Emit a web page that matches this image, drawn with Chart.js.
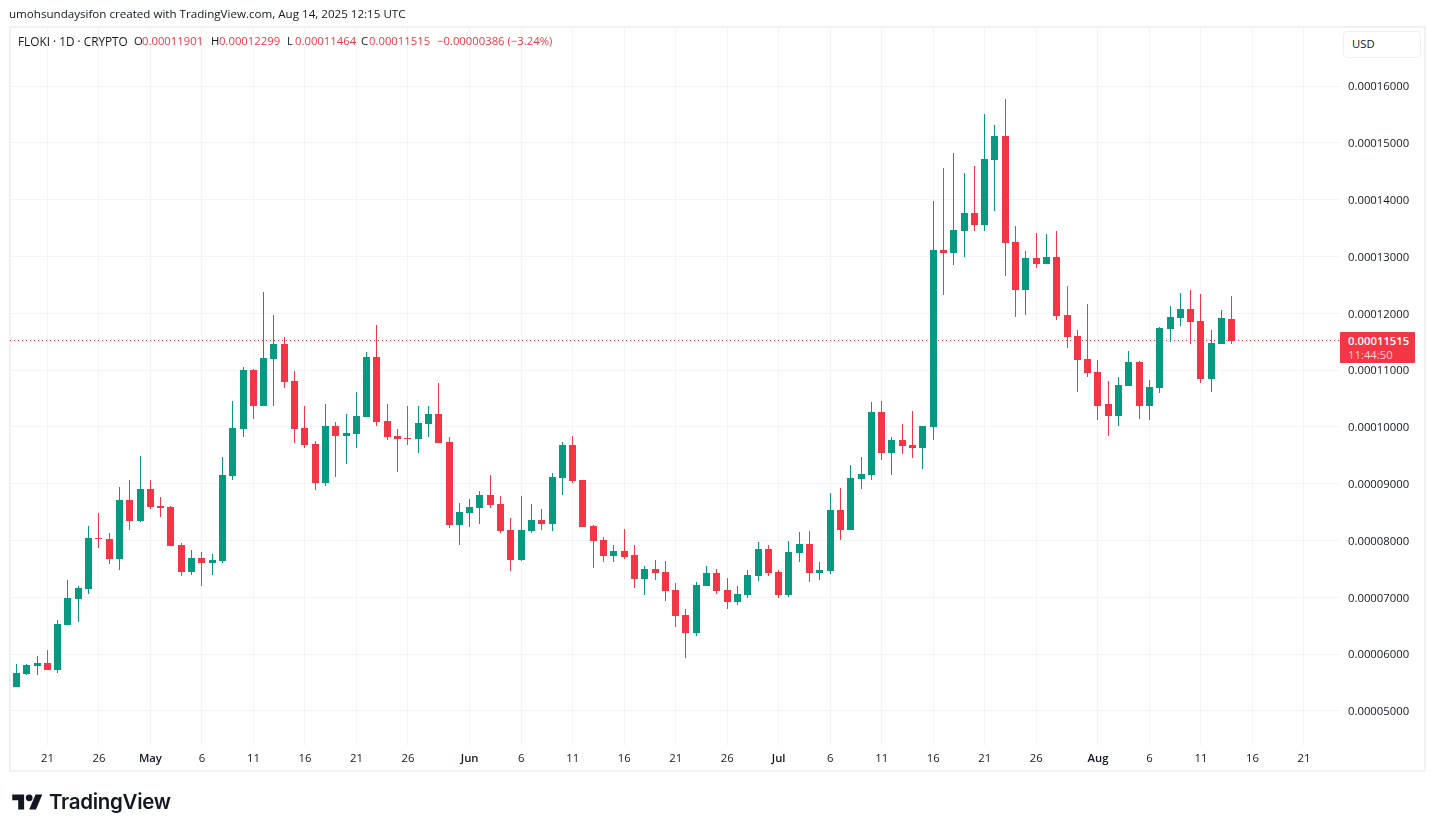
<!DOCTYPE html>
<html>
<head>
<meta charset="utf-8">
<title>FLOKI 1D</title>
<script src="https://cdn.jsdelivr.net/npm/chart.js@4"></script>
<style>
    html, body { margin: 0; padding: 0; background: #fff; }
    body { width: 1435px; height: 832px; position: relative; overflow: hidden; font-family: "Open Sans", sans-serif; color: #131722; }
    canvas { position: absolute; left: 0; top: 0; }
    .txt { position: absolute; white-space: nowrap; font-size: 11.3px; line-height: 14px; }
    .red { color: #f23645; }
    #frame { position: absolute; left: 9px; top: 26px; width: 1413px; height: 742px; border: 2px solid #f0f1f4; }
    #usd { position: absolute; left: 1343px; top: 31px; width: 76px; height: 25px; border: 1px solid #eff0f3; border-radius: 4px; background: #fff; }
    #lastbox { position: absolute; left: 1340px; top: 332px; width: 75px; height: 31px; background: #f23645; border-radius: 1px; }
    #logo { position: absolute; left: 12px; top: 791px; }
    #logotext { position: absolute; left: 49px; top: 789px; font-family: Inter, sans-serif; font-weight: 600; font-size: 20.5px; line-height: 26px; color: #131722; letter-spacing: -0.3px; }
</style>
</head>
<body>
<div id="frame"></div>
<canvas id="priceChart" width="1435" height="832"></canvas>

<div class="txt" style="left:9px;top:7px;font-size:11.6px">umohsundaysifon created with TradingView.com, Aug 14, 2025 12:15 UTC</div>
<div class="txt" style="left:18px;top:34px;font-size:11.8px">FLOKI · 1D · CRYPTO</div>
<div class="txt" style="left:134px;top:34px">O</div><div class="txt red" style="left:142px;top:34px">0.00011901</div>
<div class="txt" style="left:211px;top:34px">H</div><div class="txt red" style="left:219px;top:34px">0.00012299</div>
<div class="txt" style="left:287px;top:34px">L</div><div class="txt red" style="left:295px;top:34px">0.00011464</div>
<div class="txt" style="left:361px;top:34px">C</div><div class="txt red" style="left:369px;top:34px">0.00011515</div>
<div class="txt red" style="left:437px;top:34px">−0.00000386 (−3.24%)</div>

<div id="usd"></div>
<div class="txt" style="left:1352px;top:37px">USD</div>
<div id="lastbox"></div>
<div class="txt" style="left:1348px;top:334px;color:#fff;font-weight:600">0.00011515</div>
<div class="txt" style="left:1348px;top:348px;color:#fcd3d7">11:44:50</div>

<svg id="logo" width="31" height="22" viewBox="0 0 36 26"><path fill="#131722" d="M14 22H7V11H0V4h14v18zM28 22h-8l7.5-18h8L28 22z"/><circle fill="#131722" cx="20" cy="8" r="4"/></svg>
<div id="logotext">TradingView</div>

<script>
const startDate = '2025-04-18';
const priceUnit = 0.00001;

const opens = [
    5.424, 5.653, 5.794, 5.847, 5.724, 6.516, 6.975, 7.151, 8.051, 8.033,
    7.680, 8.720, 8.350, 8.914, 8.615, 8.597, 7.927, 7.451, 7.698, 7.610,
    7.645, 9.143, 9.971, 10.994, 10.377, 11.188, 11.452, 10.800, 9.989, 9.707,
    9.020, 10.025, 9.848, 9.883, 10.183, 11.223, 10.113, 9.848, 9.813, 9.795,
    10.060, 10.236, 9.743, 8.279, 8.491, 8.579, 8.808, 8.650, 8.192, 7.663,
    8.174, 8.368, 8.297, 9.108, 9.690, 9.073, 8.262, 8.015, 7.733, 7.821,
    7.751, 7.327, 7.504, 7.451, 7.134, 6.693, 6.376, 7.204, 7.433, 7.134,
    6.922, 7.046, 7.381, 7.856, 7.451, 7.046, 7.786, 7.945, 7.433, 7.469,
    8.544, 8.192, 9.090, 9.161, 10.254, 9.549, 9.778, 9.690, 9.637, 10.007,
    13.109, 13.056, 13.444, 13.761, 13.550, 14.696, 15.119, 13.250, 12.404, 12.968,
    12.863, 12.986, 11.963, 11.593, 11.188, 10.959, 10.395, 10.201, 10.712, 11.135,
    10.377, 10.677, 11.717, 11.910, 12.069, 11.858, 10.835, 11.452, 11.901
];
const highs = [
    5.829, 5.829, 5.970, 6.076, 6.605, 7.310, 7.204, 8.262, 8.491, 8.139,
    8.949, 9.073, 9.496, 9.073, 8.773, 8.615, 7.963, 7.839, 7.804, 7.768,
    9.478, 10.465, 11.047, 11.012, 12.369, 11.963, 11.576, 10.976, 10.377, 9.760,
    10.412, 10.095, 10.236, 10.606, 11.311, 11.787, 10.412, 9.971, 10.377, 10.377,
    10.377, 10.765, 9.830, 8.667, 8.738, 8.879, 9.161, 8.791, 8.403, 8.791,
    8.650, 8.561, 9.196, 9.743, 9.848, 9.073, 8.279, 8.068, 7.927, 8.209,
    7.927, 7.557, 7.663, 7.645, 7.257, 6.799, 7.275, 7.557, 7.504, 7.345,
    7.204, 7.486, 7.980, 7.927, 7.486, 7.998, 8.156, 8.174, 7.627, 8.844,
    8.932, 9.337, 9.478, 10.447, 10.465, 9.830, 10.060, 10.289, 10.025, 13.973,
    14.555, 14.819, 14.466, 14.590, 15.506, 15.313, 15.771, 13.532, 13.092, 13.409,
    13.391, 13.444, 12.475, 11.699, 12.157, 11.170, 10.800, 10.871, 11.329, 11.153,
    10.818, 11.752, 12.122, 12.351, 12.404, 12.334, 11.699, 12.051, 12.299
];
const lows = [
    5.424, 5.635, 5.635, 5.724, 5.671, 6.516, 6.569, 7.063, 7.874, 7.592,
    7.486, 8.192, 8.332, 8.561, 8.421, 7.909, 7.381, 7.398, 7.204, 7.398,
    7.610, 9.073, 9.830, 10.148, 10.377, 10.360, 10.677, 9.725, 9.637, 8.896,
    8.967, 9.126, 9.355, 9.637, 10.183, 10.025, 9.778, 9.214, 9.690, 9.549,
    9.830, 9.725, 8.227, 7.927, 8.245, 8.297, 8.579, 8.139, 7.469, 7.645,
    8.139, 8.192, 8.174, 8.808, 9.020, 8.245, 7.522, 7.627, 7.627, 7.680,
    7.169, 7.046, 7.310, 6.940, 6.481, 5.935, 6.323, 7.204, 7.063, 6.799,
    6.869, 6.993, 7.292, 7.381, 6.993, 7.011, 7.627, 7.275, 7.310, 7.416,
    8.015, 8.192, 8.914, 9.073, 9.425, 9.161, 9.531, 9.460, 9.267, 9.778,
    12.316, 12.845, 12.986, 13.444, 13.444, 13.797, 12.651, 11.928, 11.963, 12.792,
    12.863, 11.875, 11.382, 10.606, 10.871, 10.130, 9.848, 10.025, 10.712, 10.148,
    10.130, 10.589, 11.488, 11.770, 11.452, 10.765, 10.606, 11.452, 11.464
];
const closes = [
    5.671, 5.811, 5.847, 5.724, 6.534, 6.993, 7.169, 8.051, 8.033, 7.680,
    8.720, 8.350, 8.914, 8.597, 8.579, 7.909, 7.451, 7.698, 7.610, 7.663,
    9.161, 9.989, 10.994, 10.377, 11.205, 11.452, 10.783, 9.971, 9.690, 9.020,
    10.025, 9.848, 9.901, 10.201, 11.223, 10.095, 9.830, 9.795, 9.795, 10.077,
    10.236, 9.725, 8.279, 8.509, 8.597, 8.808, 8.632, 8.174, 7.663, 8.192,
    8.368, 8.297, 9.126, 9.690, 9.055, 8.245, 7.998, 7.733, 7.821, 7.716,
    7.327, 7.504, 7.433, 7.116, 6.676, 6.376, 7.222, 7.433, 7.116, 6.922,
    7.063, 7.398, 7.856, 7.433, 7.046, 7.804, 7.945, 7.433, 7.486, 8.544,
    8.192, 9.108, 9.179, 10.254, 9.549, 9.778, 9.672, 9.637, 10.025, 13.109,
    13.056, 13.462, 13.761, 13.550, 14.713, 15.119, 13.232, 12.404, 12.968, 12.863,
    12.986, 11.945, 11.576, 11.170, 10.941, 10.377, 10.201, 10.730, 11.135, 10.377,
    10.694, 11.734, 11.928, 12.069, 11.840, 10.835, 11.470, 11.910, 11.515
];

const priceTicks = [5, 6, 7, 8, 9, 10, 11, 12, 13, 14, 15, 16];
const dateTicks = [
    '2025-04-21', '2025-04-26', '2025-05-01', '2025-05-06', '2025-05-11', '2025-05-16', '2025-05-21', '2025-05-26',
    '2025-06-01', '2025-06-06', '2025-06-11', '2025-06-16', '2025-06-21', '2025-06-26',
    '2025-07-01', '2025-07-06', '2025-07-11', '2025-07-16', '2025-07-21', '2025-07-26',
    '2025-08-01', '2025-08-06', '2025-08-11', '2025-08-16', '2025-08-21'
];
const dateLabels = [
    '21', '26', 'May', '6', '11', '16', '21', '26',
    'Jun', '6', '11', '16', '21', '26',
    'Jul', '6', '11', '16', '21', '26',
    'Aug', '6', '11', '16', '21'
];

const UP = '#089981';
const DOWN = '#f23645';
const GRID = '#f3f4f6';
const FONT = '"Open Sans", sans-serif';

const dayOf = d => (Date.parse(d) - Date.parse(startDate)) / 86400000;
const candleColors = closes.map((c, i) => c >= opens[i] ? UP : DOWN);
const lastClose = closes[closes.length - 1];

// snap marks to whole pixels so candles stay crisp at 10.3px spacing
const crispMarks = {
    id: 'crispMarks',
    beforeDatasetDraw(chart, args) {
        if (args.meta.type === 'line') {
            args.meta.data.forEach(pt => { pt.y = Math.floor(pt.y) + 0.5; });
            return;
        }
        args.meta.data.forEach(bar => {
            bar.x = Math.floor(bar.x) + 0.5;
            let top = Math.round(bar.y);
            let bottom = Math.round(bar.base);
            if (top === bottom) bottom = top + 1;
            bar.y = top;
            bar.base = bottom;
        });
    }
};

new Chart(document.getElementById('priceChart').getContext('2d'), {
    type: 'bar',
    data: {
        datasets: [
            {
                label: 'last',
                type: 'line',
                data: [{ x: -0.63, y: lastClose }, { x: 128.5, y: lastClose }],
                borderColor: DOWN,
                borderWidth: 1,
                borderDash: [1, 3],
                pointRadius: 0,
                order: 3
            },
            {
                label: 'body',
                data: opens.map((o, i) => ({ x: i, y: [o, closes[i]] })),
                backgroundColor: candleColors,
                barThickness: 7,
                grouped: false,
                inflateAmount: 0,
                order: 1
            },
            {
                label: 'wick',
                data: highs.map((h, i) => ({ x: i, y: [lows[i], h] })),
                backgroundColor: candleColors,
                barThickness: 1,
                grouped: false,
                inflateAmount: 0,
                order: 2
            }
        ]
    },
    options: {
        responsive: false,
        animation: false,
        layout: { padding: { left: 10, top: 28, right: 10, bottom: 61 } },
        plugins: { legend: { display: false }, tooltip: { enabled: false } },
        scales: {
            x: {
                type: 'linear',
                offset: false,
                min: -0.63,
                max: 128.5,
                border: { display: false },
                grid: { color: GRID, offset: false, drawTicks: false },
                afterBuildTicks: scale => { scale.ticks = dateTicks.map(d => ({ value: dayOf(d) })); },
                afterFit: scale => { scale.height = 26; },
                ticks: {
                    autoSkip: false,
                    maxRotation: 0,
                    padding: 7,
                    color: '#131722',
                    font: ctx => ({ family: FONT, size: 11.3, weight: /[a-z]/i.test(dateLabels[ctx.index]) ? '600' : '400' }),
                    callback: (v, i) => dateLabels[i]
                }
            },
            y: {
                position: 'right',
                min: 4.401,
                max: 17.022,
                border: { display: false },
                grid: { color: GRID, drawTicks: false },
                afterBuildTicks: scale => { scale.ticks = priceTicks.map(v => ({ value: v })); },
                afterFit: scale => { scale.width = 85; },
                ticks: {
                    padding: 8,
                    crossAlign: 'near',
                    labelOffset: 1,
                    color: '#131722',
                    font: { family: FONT, size: 11.3 },
                    callback: v => (v * priceUnit).toFixed(8)
                }
            }
        }
    },
    plugins: [crispMarks]
});
</script>
</body>
</html>
